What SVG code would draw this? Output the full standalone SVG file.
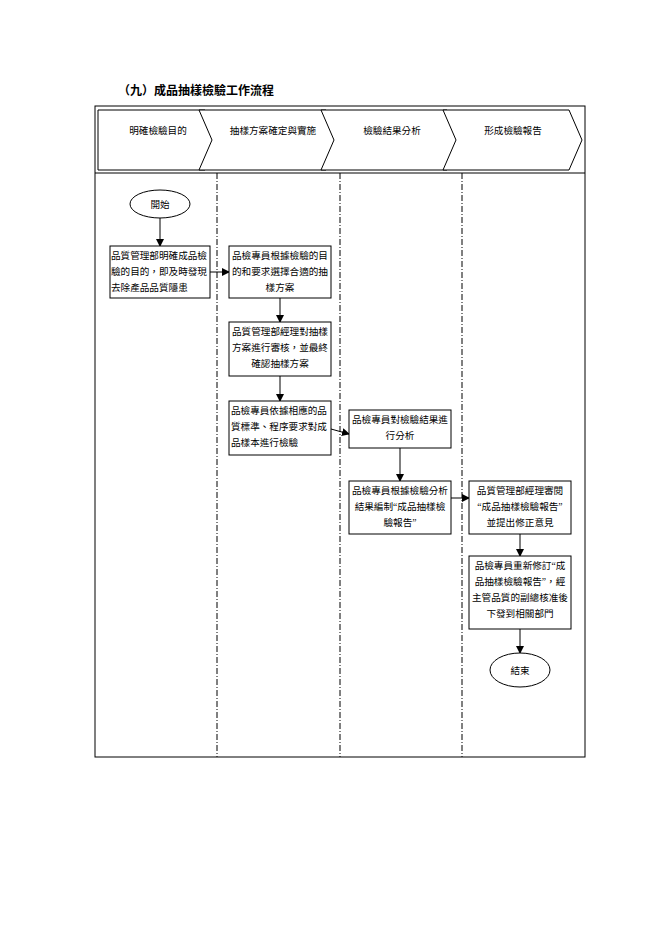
<svg xmlns="http://www.w3.org/2000/svg" width="662" height="936" viewBox="0 0 662 936">
<style>
text{font-family:"Liberation Serif","Noto Sans CJK TC",serif;font-size:9.6px;fill:#000;text-anchor:middle}
.l{text-anchor:start}
.b{fill:#fff;stroke:#000;stroke-width:1}
.c{stroke:#000;stroke-width:1;fill:none;marker-end:url(#a)}
.d{stroke:#000;stroke-width:1;stroke-dasharray:6,2,1,2}
</style>
<defs><marker id="a" markerWidth="8" markerHeight="8" refX="7" refY="4" orient="auto" markerUnits="userSpaceOnUse"><path d="M0,0L8,4L0,8z" fill="#000"/></marker></defs>
<rect width="662" height="936" fill="#fff"/>
<text x="118" y="95" class="l" style="font-weight:bold;font-size:12px">（九）成品抽樣檢驗工作流程</text>
<rect x="95" y="106" width="490" height="651" fill="none" stroke="#000"/>
<line x1="95" y1="173" x2="585" y2="173" stroke="#000"/>
<g id="header" fill="#fff" stroke="#000">
<path d="M98,110H205L218,140L205,170H98Z"/>
<path d="M199,110H326L339,140L326,170H199L212,140Z"/>
<path d="M321,110H447L460,140L447,170H321L334,140Z"/>
<path d="M443,110H569L582,140L569,170H443L456,140Z"/>
</g>
<text x="158" y="134">明確檢驗目的</text>
<text x="273" y="134">抽樣方案確定與實施</text>
<text x="392" y="134">檢驗結果分析</text>
<text x="513" y="134">形成檢驗報告</text>
<line class="d" x1="217" y1="173" x2="217" y2="757"/>
<line class="d" x1="340" y1="173" x2="340" y2="757"/>
<line class="d" x1="462" y1="173" x2="462" y2="757"/>
<g id="connectors">
<line class="c" x1="160" y1="218" x2="160" y2="246"/>
<line class="c" x1="210" y1="272" x2="229" y2="272"/>
<line class="c" x1="280" y1="298" x2="280" y2="322"/>
<line class="c" x1="280" y1="376" x2="280" y2="401"/>
<line class="c" x1="331" y1="429" x2="349" y2="434"/>
<line class="c" x1="400" y1="448" x2="400" y2="481"/>
<line class="c" x1="451" y1="498" x2="469" y2="498"/>
<line class="c" x1="520" y1="534" x2="520" y2="556"/>
<line class="c" x1="520" y1="629" x2="520" y2="653"/>
</g>
<g id="start"><ellipse class="b" cx="160" cy="204" rx="30" ry="14"/><text x="160" y="208">開始</text></g>
<g id="n1"><rect class="b" x="110" y="246" width="100" height="52"/><text x="111" y="259" class="l">品質管理部明確成品檢</text><text x="111" y="275" class="l">驗的目的，即及時發現</text><text x="111" y="291" class="l">去除產品品質隱患</text></g>
<g id="n2"><rect class="b" x="229" y="246" width="102" height="52"/><text x="280" y="259">品檢專員根據檢驗的目</text><text x="280" y="275">的和要求選擇合適的抽</text><text x="280" y="291">樣方案</text></g>
<g id="n3"><rect class="b" x="229" y="322" width="102" height="54"/><text x="280" y="335">品質管理部經理對抽樣</text><text x="280" y="351">方案進行審核，並最終</text><text x="280" y="367">確認抽樣方案</text></g>
<g id="n4"><rect class="b" x="229" y="401" width="102" height="54"/><text x="231" y="414" class="l">品檢專員依據相應的品</text><text x="231" y="430" class="l">質標準、程序要求對成</text><text x="231" y="446" class="l">品樣本進行檢驗</text></g>
<g id="n5"><rect class="b" x="349" y="410" width="102" height="38"/><text x="400" y="423">品檢專員對檢驗結果進</text><text x="400" y="439">行分析</text></g>
<g id="n6"><rect class="b" x="349" y="481" width="102" height="53"/><text x="400" y="494">品檢專員根據檢驗分析</text><text x="400" y="510">結果編制“成品抽樣檢</text><text x="400" y="526">驗報告”</text></g>
<g id="n7"><rect class="b" x="469" y="481" width="102" height="53"/><text x="520" y="494">品質管理部經理審閱</text><text x="520" y="510">“成品抽樣檢驗報告”</text><text x="520" y="526">並提出修正意見</text></g>
<g id="n8"><rect class="b" x="469" y="556" width="102" height="73"/><text x="520" y="569">品檢專員重新修訂“成</text><text x="520" y="585">品抽樣檢驗報告”，經</text><text x="520" y="601">主管品質的副總核准後</text><text x="520" y="617">下發到相關部門</text></g>
<g id="end"><ellipse class="b" cx="520" cy="670" rx="30" ry="17"/><text x="520" y="674">結束</text></g>
</svg>
